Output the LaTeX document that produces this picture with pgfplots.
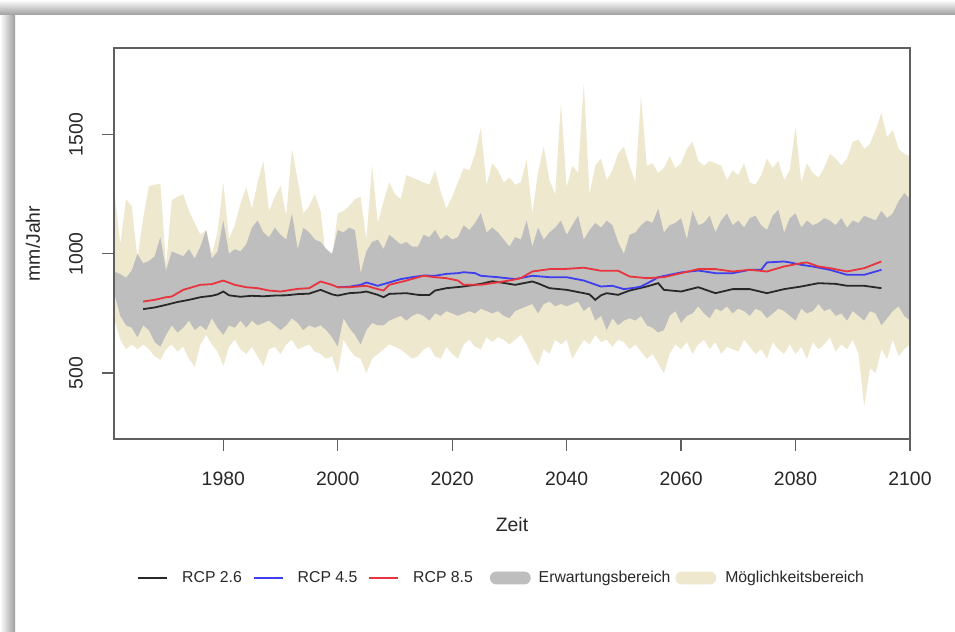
\documentclass[border=0pt]{standalone}
\usepackage{fontspec}
\setmainfont{Liberation Sans}
\usepackage{pgfplots}
\pgfplotsset{compat=1.18}
\definecolor{beigeband}{RGB}{238,232,207}
\definecolor{grayband}{RGB}{190,190,190}
\definecolor{rcpred}{RGB}{232,52,62}
\definecolor{rcpblue}{RGB}{62,62,236}
\definecolor{rcpblack}{RGB}{40,40,40}
\definecolor{boxgray}{RGB}{95,95,95}
\definecolor{txt}{RGB}{40,40,40}

% Moeglichkeitsbereich: upper bound (ascending years), then lower bound (descending years)
\pgfplotstableread{
year v
1961 1255
1962 1040
1963 1230
1964 1200
1965 980
1966 1150
1967 1285
1968 1290
1969 1295
1970 950
1971 1225
1972 1240
1973 1250
1974 1180
1975 1130
1976 1080
1977 1100
1978 1000
1979 1090
1980 1300
1981 1060
1982 1120
1983 1210
1984 1280
1985 1190
1986 1300
1987 1390
1988 1180
1989 1240
1990 1285
1991 1160
1992 1440
1993 1310
1994 1170
1995 1200
1996 1250
1997 1180
1998 970
1999 980
2000 1170
2001 1180
2002 1200
2003 1230
2004 1240
2005 1060
2006 1370
2007 1130
2008 1220
2009 1300
2010 1250
2011 1230
2012 1330
2013 1320
2014 1310
2015 1300
2016 1290
2017 1350
2018 1260
2019 1190
2020 1240
2021 1300
2022 1360
2023 1350
2024 1420
2025 1528
2026 1290
2027 1380
2028 1350
2029 1300
2030 1320
2031 1290
2032 1300
2033 1395
2034 1170
2035 1340
2036 1450
2037 1310
2038 1250
2039 1633
2040 1280
2041 1370
2042 1340
2043 1717
2044 1250
2045 1370
2046 1400
2047 1310
2048 1350
2049 1420
2050 1450
2051 1370
2052 1300
2053 1661
2054 1370
2055 1380
2056 1340
2057 1360
2058 1410
2059 1360
2060 1380
2061 1440
2062 1470
2063 1390
2064 1370
2065 1390
2066 1380
2067 1370
2068 1310
2069 1350
2070 1330
2071 1380
2072 1300
2073 1290
2074 1330
2075 1400
2076 1360
2077 1390
2078 1310
2079 1350
2080 1535
2081 1300
2082 1380
2083 1340
2084 1320
2085 1360
2086 1420
2087 1400
2088 1370
2089 1400
2090 1470
2091 1480
2092 1440
2093 1460
2094 1520
2095 1591
2096 1490
2097 1520
2098 1440
2099 1420
2100 1409
2100 620
2099 600
2098 570
2097 640
2096 560
2095 600
2094 500
2093 520
2092 359
2091 580
2090 640
2089 600
2088 620
2087 590
2086 650
2085 620
2084 600
2083 630
2082 560
2081 610
2080 580
2079 620
2078 580
2077 600
2076 630
2075 560
2074 600
2073 580
2072 610
2071 640
2070 590
2069 600
2068 610
2067 580
2066 630
2065 600
2064 640
2063 620
2062 580
2061 630
2060 600
2059 620
2058 580
2057 499
2056 540
2055 580
2054 560
2053 590
2052 620
2051 600
2050 630
2049 640
2048 610
2047 640
2046 630
2045 660
2044 620
2043 640
2042 600
2041 560
2040 640
2039 620
2038 640
2037 580
2036 600
2035 530
2034 570
2033 620
2032 660
2031 640
2030 620
2029 640
2028 650
2027 630
2026 650
2025 600
2024 610
2023 640
2022 620
2021 560
2020 580
2019 610
2018 560
2017 570
2016 610
2015 600
2014 570
2013 560
2012 580
2011 600
2010 610
2009 620
2008 600
2007 580
2006 560
2005 499
2004 560
2003 570
2002 600
2001 640
2000 499
1999 570
1998 560
1997 580
1996 590
1995 620
1994 610
1993 600
1992 640
1991 620
1990 580
1989 610
1988 600
1987 530
1986 570
1985 610
1984 580
1983 600
1982 640
1981 610
1980 530
1979 590
1978 620
1977 660
1976 620
1975 525
1974 560
1973 610
1972 590
1971 620
1970 600
1969 555
1968 570
1967 600
1966 620
1965 600
1964 620
1963 600
1962 640
1961 720
}\beigepoly

% Erwartungsbereich: upper bound (ascending years), then lower bound (descending years)
\pgfplotstableread{
year v
1961 925
1962 915
1963 900
1964 930
1965 1000
1966 960
1967 970
1968 990
1969 1070
1970 930
1971 1010
1972 1000
1973 990
1974 1020
1975 980
1976 1030
1977 1100
1978 980
1979 1010
1980 1140
1981 1000
1982 1020
1983 1010
1984 1040
1985 1110
1986 1140
1987 1090
1988 1070
1989 1110
1990 1080
1991 1060
1992 1170
1993 1020
1994 1110
1995 1090
1996 1060
1997 1050
1998 1020
1999 1000
2000 1100
2001 1090
2002 1110
2003 1100
2004 920
2005 1010
2006 1050
2007 1060
2008 1020
2009 1080
2010 1060
2011 1040
2012 1050
2013 1030
2014 1030
2015 1080
2016 1070
2017 1100
2018 1060
2019 1080
2020 1060
2021 1070
2022 1120
2023 1100
2024 1130
2025 1171
2026 1090
2027 1110
2028 1090
2029 1060
2030 1030
2031 1070
2032 1060
2033 1140
2034 1030
2035 1110
2036 1060
2037 1090
2038 1110
2039 1140
2040 1080
2041 1120
2042 1160
2043 1060
2044 1100
2045 1130
2046 1110
2047 1140
2048 1120
2049 1050
2050 1000
2051 1080
2052 1090
2053 1120
2054 1140
2055 1130
2056 1190
2057 1090
2058 1120
2059 1130
2060 1150
2061 1060
2062 1180
2063 1120
2064 1130
2065 1160
2066 1090
2067 1140
2068 1170
2069 1120
2070 1140
2071 1110
2072 1150
2073 1160
2074 1120
2075 1100
2076 1160
2077 1185
2078 1090
2079 1150
2080 1170
2081 1110
2082 1140
2083 1120
2084 1130
2085 1150
2086 1140
2087 1120
2088 1150
2089 1110
2090 1140
2091 1130
2092 1160
2093 1150
2094 1140
2095 1180
2096 1150
2097 1170
2098 1220
2099 1255
2100 1230
2100 720
2099 740
2098 780
2097 760
2096 730
2095 700
2094 750
2093 760
2092 720
2091 740
2090 760
2089 720
2088 750
2087 740
2086 770
2085 760
2084 790
2083 760
2082 750
2081 770
2080 720
2079 740
2078 760
2077 770
2076 750
2075 730
2074 760
2073 770
2072 740
2071 760
2070 770
2069 750
2068 780
2067 760
2066 770
2065 730
2064 750
2063 780
2062 750
2061 740
2060 710
2059 760
2058 740
2057 680
2056 670
2055 690
2054 700
2053 740
2052 720
2051 730
2050 720
2049 700
2048 730
2047 680
2046 740
2045 720
2044 780
2043 760
2042 800
2041 790
2040 780
2039 790
2038 780
2037 800
2036 790
2035 750
2034 790
2033 780
2032 770
2031 760
2030 730
2029 740
2028 760
2027 750
2026 760
2025 770
2024 750
2023 760
2022 750
2021 740
2020 750
2019 760
2018 740
2017 750
2016 720
2015 740
2014 750
2013 740
2012 720
2011 740
2010 730
2009 720
2008 700
2007 700
2006 710
2005 680
2004 620
2003 660
2002 690
2001 730
2000 611
1999 650
1998 680
1997 700
1996 690
1995 700
1994 680
1993 710
1992 730
1991 700
1990 680
1989 700
1988 720
1987 710
1986 700
1985 720
1984 690
1983 720
1982 690
1981 700
1980 660
1979 690
1978 730
1977 680
1976 700
1975 680
1974 720
1973 690
1972 670
1971 700
1970 660
1969 610
1968 630
1967 680
1966 700
1965 650
1964 690
1963 700
1962 740
1961 830
}\graypoly

\pgfplotstableread{
year v
1966 768
1968 775
1970 786
1972 798
1974 807
1976 818
1978 824
1979 830
1980 842
1981 826
1983 820
1985 824
1987 822
1989 825
1991 826
1993 831
1995 833
1997 849
1999 830
2000 825
2002 835
2004 838
2005 842
2007 828
2008 818
2009 832
2012 835
2014 828
2016 827
2017 846
2019 856
2022 863
2025 874
2027 885
2029 878
2031 870
2034 884
2035 876
2037 856
2040 849
2043 835
2044 830
2045 807
2046 826
2047 835
2049 828
2051 846
2054 863
2056 877
2057 849
2060 842
2063 860
2066 835
2069 852
2072 852
2075 835
2078 852
2081 863
2084 877
2087 874
2089 866
2092 866
2095 856
}\rcpa

\pgfplotstableread{
year v
2000 860
2002 862
2004 870
2005 880
2007 866
2009 880
2011 894
2013 902
2015 909
2017 908
2019 916
2021 919
2022 923
2024 919
2025 908
2028 902
2031 894
2034 908
2037 902
2040 902
2043 888
2046 863
2048 866
2050 852
2052 858
2053 863
2055 888
2056 902
2060 922
2063 930
2066 919
2069 919
2072 933
2074 933
2075 964
2078 968
2079 964
2081 954
2083 947
2086 933
2089 912
2092 912
2095 933
}\rcpb

\pgfplotstableread{
year v
1966 800
1968 807
1970 818
1971 821
1973 849
1976 870
1978 873
1980 888
1982 870
1984 860
1986 856
1988 846
1990 842
1993 853
1995 856
1997 884
1999 870
2000 860
2002 860
2005 866
2007 852
2008 846
2009 870
2012 888
2015 908
2017 902
2019 898
2021 888
2022 870
2025 870
2027 877
2030 888
2032 898
2034 926
2037 936
2040 937
2043 942
2046 929
2049 929
2051 905
2054 898
2057 902
2060 919
2063 936
2066 936
2069 926
2072 933
2075 926
2078 947
2081 961
2082 964
2084 947
2086 940
2089 926
2092 940
2095 968
}\rcpc

\begin{document}
\begin{tikzpicture}
\path[use as bounding box, fill=white] (0,0) rectangle (477.5pt,316pt);
\shade[left color=white, right color=black!38] (0,0) rectangle (7.5pt,316pt);
\shade[top color=white, bottom color=black!38] (0pt,308.5pt) rectangle (477.5pt,316pt);
\begin{axis}[
  at={(57pt,96.5pt)}, anchor=south west,
  scale only axis, width=398pt, height=195.5pt,
  xmin=1960.9, xmax=2100, ymin=223, ymax=1864,
  xtick={1980,2000,2020,2040,2060,2080,2100},
  ytick={500,1000,1500},
  tick pos=left, tick align=outside,
  major tick length=6pt,
  axis line style={boxgray, line width=0.6pt},
  major tick style={boxgray, line width=0.6pt},
  /pgf/number format/1000 sep={},
  /pgf/number format/assume math mode=true,
  ticklabel style={font=\fontsize{9.7}{11}\selectfont, text=txt},
  xticklabel style={anchor=center, yshift=-14pt},
  yticklabel style={anchor=center, rotate=90, yshift=13pt},
  xlabel={Zeit}, ylabel={mm/Jahr},
  label style={font=\fontsize{9.7}{11}\selectfont, text=txt},
  xlabel style={at={(axis description cs:0.5,-0.22)}, anchor=center},
  ylabel style={at={(axis description cs:-0.1018,0.5)}, anchor=center},
  legend columns=5,
  legend style={at={(axis description cs:0.0289,-0.3555)}, anchor=west,
    draw=none, fill=none, inner sep=0pt,
    nodes={inner sep=0pt},
    font=\fontsize{7.9}{9}\selectfont, text=txt,
    /tikz/column 1/.style={column sep=7pt},
    /tikz/column 2/.style={column sep=5.5pt},
    /tikz/column 3/.style={column sep=7pt},
    /tikz/column 4/.style={column sep=5.5pt},
    /tikz/column 5/.style={column sep=7pt},
    /tikz/column 6/.style={column sep=8.5pt},
    /tikz/column 7/.style={column sep=4pt},
    /tikz/column 8/.style={column sep=2.5pt},
    /tikz/column 9/.style={column sep=4.5pt}},
]
\addlegendimage{legend image code/.code={\draw[rcpblack, line width=0.9pt] (0pt,0pt) -- (14.5pt,0pt);}}
\addlegendentry{RCP 2.6}
\addlegendimage{legend image code/.code={\draw[rcpblue, line width=0.9pt] (0pt,0pt) -- (14.5pt,0pt);}}
\addlegendentry{RCP 4.5}
\addlegendimage{legend image code/.code={\draw[rcpred, line width=0.9pt] (0pt,0pt) -- (14.5pt,0pt);}}
\addlegendentry{RCP 8.5}
\addlegendimage{legend image code/.code={\fill[grayband, rounded corners=3pt] (0pt,-3pt) rectangle (20pt,3pt);}}
\addlegendentry{Erwartungsbereich}
\addlegendimage{legend image code/.code={\fill[beigeband, rounded corners=3pt] (0pt,-3pt) rectangle (20pt,3pt);}}
\addlegendentry{Möglichkeitsbereich}
\addplot[fill=beigeband, draw=none, forget plot] table[x=year, y=v] {\beigepoly};
\addplot[fill=grayband, draw=none, forget plot] table[x=year, y=v] {\graypoly};
\addplot[rcpblack, line width=0.9pt, forget plot] table[x=year, y=v] {\rcpa};
\addplot[rcpblue, line width=0.9pt, forget plot] table[x=year, y=v] {\rcpb};
\addplot[rcpred, line width=0.9pt, forget plot] table[x=year, y=v] {\rcpc};
\draw[boxgray, line width=0.6pt] (rel axis cs:0,0) rectangle (rel axis cs:1,1);
\end{axis}
\end{tikzpicture}
\end{document}
